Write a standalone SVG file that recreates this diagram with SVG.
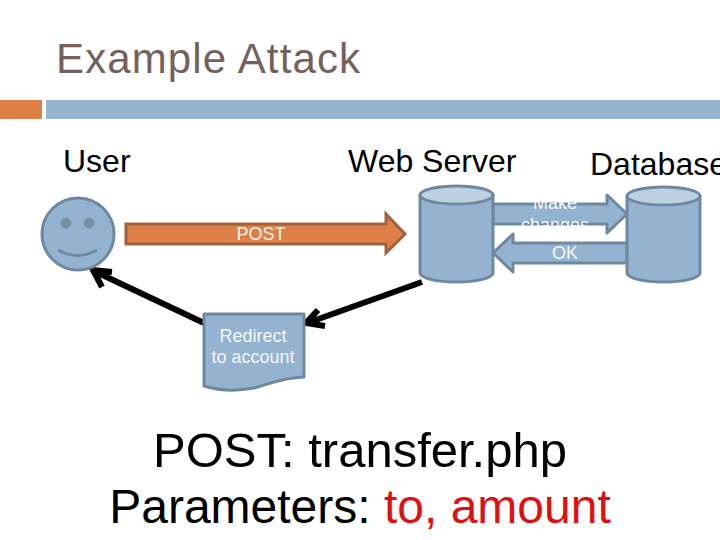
<svg xmlns="http://www.w3.org/2000/svg" width="720" height="540" viewBox="0 0 720 540">
<style>
text{font-family:"Liberation Sans",Arial,sans-serif}
.shape{fill:#93b3d0;stroke:#70889f;stroke-width:3;stroke-linejoin:round}
.top{fill:#bdd1e3;stroke:#70889f;stroke-width:3}
.white{fill:#fff;font-size:18px;text-anchor:middle;fill-opacity:.93}
.head{fill:#000;font-size:32px}
.black{stroke:#000;stroke-width:6;fill:none;stroke-linejoin:miter}
</style>
<rect width="720" height="540" fill="#fff"/>
<g id="title">
<text x="56" y="73" font-size="42" fill="#76615a" textLength="304">Example Attack</text>
</g>
<g id="header-bars">
<rect x="0" y="100" width="42" height="19" fill="#dd8047"/>
<rect x="46" y="100" width="674" height="19" fill="#94b5d0"/>
</g>
<g id="label-user"><text class="head" x="63" y="172">User</text></g>
<g id="label-webserver"><text class="head" x="348" y="172">Web Server</text></g>
<g id="label-database"><text class="head" x="590" y="175">Database</text></g>
<g id="connectors">
<path d="M126 224H386V214L405 234L386 253V244H126Z" fill="#dd8047" stroke="#a0623c" stroke-width="3" stroke-linejoin="miter"/>
<path class="shape" d="M493 204H607V195L627 214L607 233V224H493Z"/>
<path class="shape" d="M627 243H513V234L493 253L513 272V263H627Z"/>
<path class="black" d="M204 323L96 272M112 272L93 270L102 287"/>
<path class="black" d="M422 282L310 322M318 310L306 323L325 326"/>
<text class="white" x="261" y="240">POST</text>
<text class="white" x="555" y="209">Make</text>
<text class="white" x="555" y="231">changes</text>
<text class="white" x="565" y="259">OK</text>
</g>
<g id="user">
<circle class="shape" cx="78" cy="234" r="36"/>
<circle cx="66" cy="223" r="5" fill="#76909f" stroke="#7a93aa"/>
<circle cx="89" cy="223" r="5" fill="#76909f" stroke="#7a93aa"/>
<path d="M58 250Q78 261 97 250" fill="none" stroke="#70889f" stroke-width="3"/>
</g>
<g id="webserver">
<path class="shape" d="M420 195V273A36.500 9 0 0 0 493 273V195Z"/>
<ellipse class="top" cx="456.500" cy="195" rx="36.500" ry="9"/>
</g>
<g id="database">
<path class="shape" d="M627 196V273A36.500 9 0 0 0 700 273V196Z"/>
<ellipse class="top" cx="663.500" cy="196" rx="36.500" ry="9"/>
</g>
<g id="redirect">
<path class="shape" d="M204 314H304V377C280 378 270 384 254 388C238 391 220 391 204 386Z"/>
<text class="white" x="253" y="342">Redirect</text>
<text class="white" x="253" y="363">to account</text>
</g>
<g id="caption" text-anchor="middle">
<text x="360" y="467" fill="#000" font-size="49">POST: transfer.php</text>
<text x="360" y="523" fill="#000" font-size="48">Parameters: <tspan fill="#e01010">to, amount</tspan></text>
</g>
</svg>
